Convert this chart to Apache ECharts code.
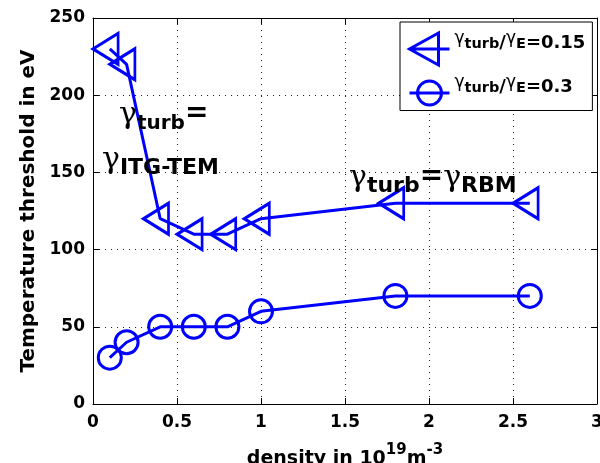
<!DOCTYPE html>
<html>
<head>
<meta charset="utf-8">
<script src="https://cdn.jsdelivr.net/npm/echarts@6/dist/echarts.min.js"></script>
<style>
html,body{margin:0;padding:0;background:#fff;}
#chart{width:600px;height:463px;}
</style>
</head>
<body>
<div id="chart"></div>
<script>
// ---- data ----
const densities = [0.1, 0.2, 0.4, 0.6, 0.8, 1.0, 1.8, 2.6];
const thresholdRatio015 = [230, 220, 120, 110, 110, 120, 130, 130];
const thresholdRatio03 = [30, 40, 50, 50, 50, 60, 70, 70];
const xRange = [0, 3];
const xStep = 0.5;
const yRange = [0, 250];
const yStep = 50;
const seriesNames = ['ratio015', 'ratio03'];
const legendLabels = {
  ratio015: '{g|γ}{s|turb}{n|/}{g|γ}{s|E}{n|=0.15}',
  ratio03: '{g|γ}{s|turb}{n|/}{g|γ}{s|E}{n|=0.3}'
};
const xAxisTitle = '{n|density in 10}{p|19}{n|m}{p|-3}';
const yAxisTitle = 'Temperature threshold in eV';
const annotation1a = '{g|γ}{s|turb}{e|=}';
const annotation1b = '{g|γ}{s|ITG-TEM}';
const annotation2 = '{g|γ}{s|turb}{e|=}{g|γ}{s|RBM}';

const BLUE = '#0000ff';
const SANS = 'DejaVu Sans';
const SERIF = 'DejaVu Serif';

const pair = (xs, ys) => xs.map((x, i) => [x, ys[i]]);

function annotRich(subSize) {
  return {
    g: {fontFamily: SERIF, fontSize: 30, lineHeight: 34, verticalAlign: 'top', color: '#000'},
    s: {fontFamily: SANS, fontWeight: 'bold', fontSize: subSize, lineHeight: 5, verticalAlign: 'bottom', color: '#000'},
    e: {fontFamily: SANS, fontWeight: 'bold', fontSize: 28, lineHeight: 24, verticalAlign: 'top', color: '#000'}
  };
}

// legend icons: line with marker (geometry of the icon only)
const triIcon = 'path://M0,16L40,16M29,0L29,32L0,16Z';
const circIcon = 'path://M0,16L40,16M32,16A12,12,0,1,1,8,16A12,12,0,1,1,32,16Z';

const chart = echarts.init(document.getElementById('chart'), null, {renderer: 'canvas'});

const gridLine = {show: true, lineStyle: {color: '#222', width: 1, type: [1, 5]}};
const frameLine = {show: true, onZero: false, lineStyle: {color: '#000', width: 1}};
const inTick = {show: true, inside: true, length: 6, lineStyle: {color: '#000', width: 1}};

chart.setOption({
  animation: false,
  backgroundColor: '#fff',
  grid: {left: 93, right: 3, top: 18, bottom: 59, containLabel: false, outerBoundsMode: 'none'},
  xAxis: [{
    type: 'value', min: xRange[0], max: xRange[1], interval: xStep,
    axisLine: frameLine, axisTick: inTick, splitLine: gridLine,
    axisLabel: {color: '#000', fontFamily: SANS, fontWeight: 'bold', fontSize: 17, margin: 10},
    name: xAxisTitle, nameLocation: 'middle', nameGap: 39,
    nameTextStyle: {
      rich: {
        n: {fontFamily: SANS, fontWeight: 'bold', fontSize: 19, lineHeight: 26, verticalAlign: 'bottom', color: '#000'},
        p: {fontFamily: SANS, fontWeight: 'bold', fontSize: 15, lineHeight: 12, verticalAlign: 'top', color: '#000'}
      }
    }
  }, {
    type: 'value', position: 'top', min: xRange[0], max: xRange[1], interval: xStep,
    axisLine: frameLine, axisTick: inTick, splitLine: {show: false}, axisLabel: {show: false}
  }],
  yAxis: [{
    type: 'value', min: yRange[0], max: yRange[1], interval: yStep,
    axisLine: frameLine, axisTick: inTick, splitLine: gridLine,
    axisLabel: {color: '#000', fontFamily: SANS, fontWeight: 'bold', fontSize: 17, margin: 8},
    name: yAxisTitle, nameLocation: 'middle', nameGap: 48,
    nameTextStyle: {color: '#000', fontFamily: SANS, fontWeight: 'bold', fontSize: 20}
  }, {
    type: 'value', position: 'right', min: yRange[0], max: yRange[1], interval: yStep,
    axisLine: frameLine, axisTick: inTick, splitLine: {show: false}, axisLabel: {show: false}
  }],
  legend: {
    orient: 'vertical', left: 400, top: 22,
    padding: [8, 7, 4, 8], itemGap: 7.5,
    itemWidth: 40, itemHeight: 32,
    backgroundColor: '#fff', borderColor: '#000', borderWidth: 1,
    itemStyle: {color: 'rgba(0,0,0,0)', borderColor: BLUE, borderWidth: 3},
    data: [{name: seriesNames[0], icon: triIcon}, {name: seriesNames[1], icon: circIcon}],
    formatter: name => legendLabels[name],
    textStyle: {
      padding: [0, 0, 16, 0],
      rich: {
        n: {fontFamily: SANS, fontWeight: 'bold', fontSize: 18, lineHeight: 22, verticalAlign: 'bottom', color: '#000'},
        g: {fontFamily: SANS, fontSize: 17, lineHeight: 21, verticalAlign: 'top', color: '#000'},
        s: {fontFamily: SANS, fontWeight: 'bold', fontSize: 14.5, lineHeight: 7, verticalAlign: 'bottom', color: '#000'}
      }
    }
  },
  series: [{
    name: seriesNames[0], type: 'line', data: pair(densities, thresholdRatio015),
    symbol: 'triangle', symbolSize: [31, 25], symbolRotate: 90, symbolOffset: [-4.2, 0],
    showAllSymbol: true,
    lineStyle: {color: BLUE, width: 3},
    itemStyle: {color: 'rgba(0,0,0,0)', borderColor: BLUE, borderWidth: 3},
    z: 3
  }, {
    name: seriesNames[1], type: 'line', data: pair(densities, thresholdRatio03),
    symbol: 'circle', symbolSize: 23,
    showAllSymbol: true,
    lineStyle: {color: BLUE, width: 3},
    itemStyle: {color: 'rgba(0,0,0,0)', borderColor: BLUE, borderWidth: 3},
    z: 3
  }],
  graphic: [
    {type: 'text', left: 119, top: 100, z: 10, style: {text: annotation1a, rich: annotRich(20)}},
    {type: 'text', left: 102, top: 145, z: 10, style: {text: annotation1b, rich: annotRich(22)}},
    {type: 'text', left: 349, top: 163, z: 10, style: {text: annotation2, rich: annotRich(22)}}
  ]
});
</script>
</body>
</html>
